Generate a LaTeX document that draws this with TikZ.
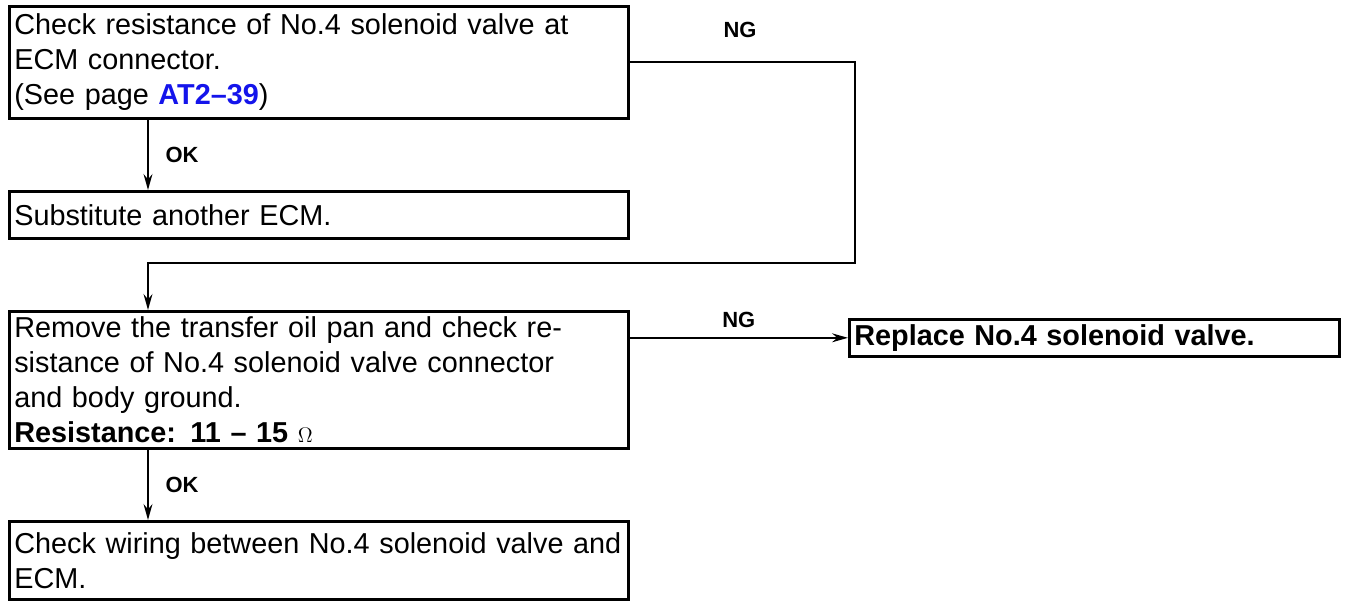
\documentclass[tikz,border=0pt]{standalone}
\usepackage{fontspec}
\setmainfont{Liberation Sans}
\usetikzlibrary{arrows.meta}
\definecolor{linkblue}{RGB}{20,20,235}
\tikzset{stepbox/.style = {rectangle, draw, line width=1.5pt, anchor=north west, align=left,
                           inner xsep=0.1cm, inner ysep=0pt, font=\fontsize{16.4}{20}\selectfont},
         lbl/.style = {font=\fontsize{12.5}{14}\selectfont\bfseries},
         flow/.style = {line width=1.3pt}}

\begin{document}
\begin{tikzpicture}[x=0.02cm, y=-0.02cm, >={Stealth[length=9pt, width=5pt]}]
    \useasboundingbox (0,0) rectangle (1346,602);
    % boxes
    \node[stepbox, text width=12.18cm, minimum height=2.24cm] (chk) at (8,5)
        {Check resistance of No.4 solenoid valve at\\ECM connector.\\(See page \textbf{\textcolor{linkblue}{AT2--39}})};
    \node[stepbox, text width=12.18cm, minimum height=0.94cm] (sub) at (8,190) {Substitute another ECM.};
    \node[stepbox, text width=12.18cm, minimum height=2.74cm] (rem) at (8,310)
        {Remove the transfer oil pan and check re-\\sistance of No.4 solenoid valve connector\\and body ground.\\\textbf{Resistance: 11 -- 15 {\fontsize{12}{14}\selectfont$\Omega$}}};
    \node[stepbox, text width=9.6cm, minimum height=0.74cm] (rep) at (848,318) {\textbf{Replace No.4 solenoid valve.}};
    \node[stepbox, text width=12.18cm, minimum height=1.56cm] (wir) at (8,520)
        {Check wiring between No.4 solenoid valve and\\ECM.};
    % connectors
    \coordinate (drop) at (148,0);
    \coordinate (ngturn) at (855,263);
    \draw[flow, ->] (chk.south -| drop) -- (sub.north -| drop) node[lbl, midway, right=6pt] {OK};
    \draw[flow, ->] (chk.east) -| (ngturn) -- (ngturn -| drop) -- (rem.north -| drop);
    \node[lbl] (ng1) at (740,30) {NG};
    \draw[flow, ->] (rem.east |- rep.west) -- (rep.west) node[lbl, midway, above=2pt] {NG};
    \draw[flow, ->] (rem.south -| drop) -- (wir.north -| drop) node[lbl, midway, right=6pt] {OK};
\end{tikzpicture}
\end{document}
